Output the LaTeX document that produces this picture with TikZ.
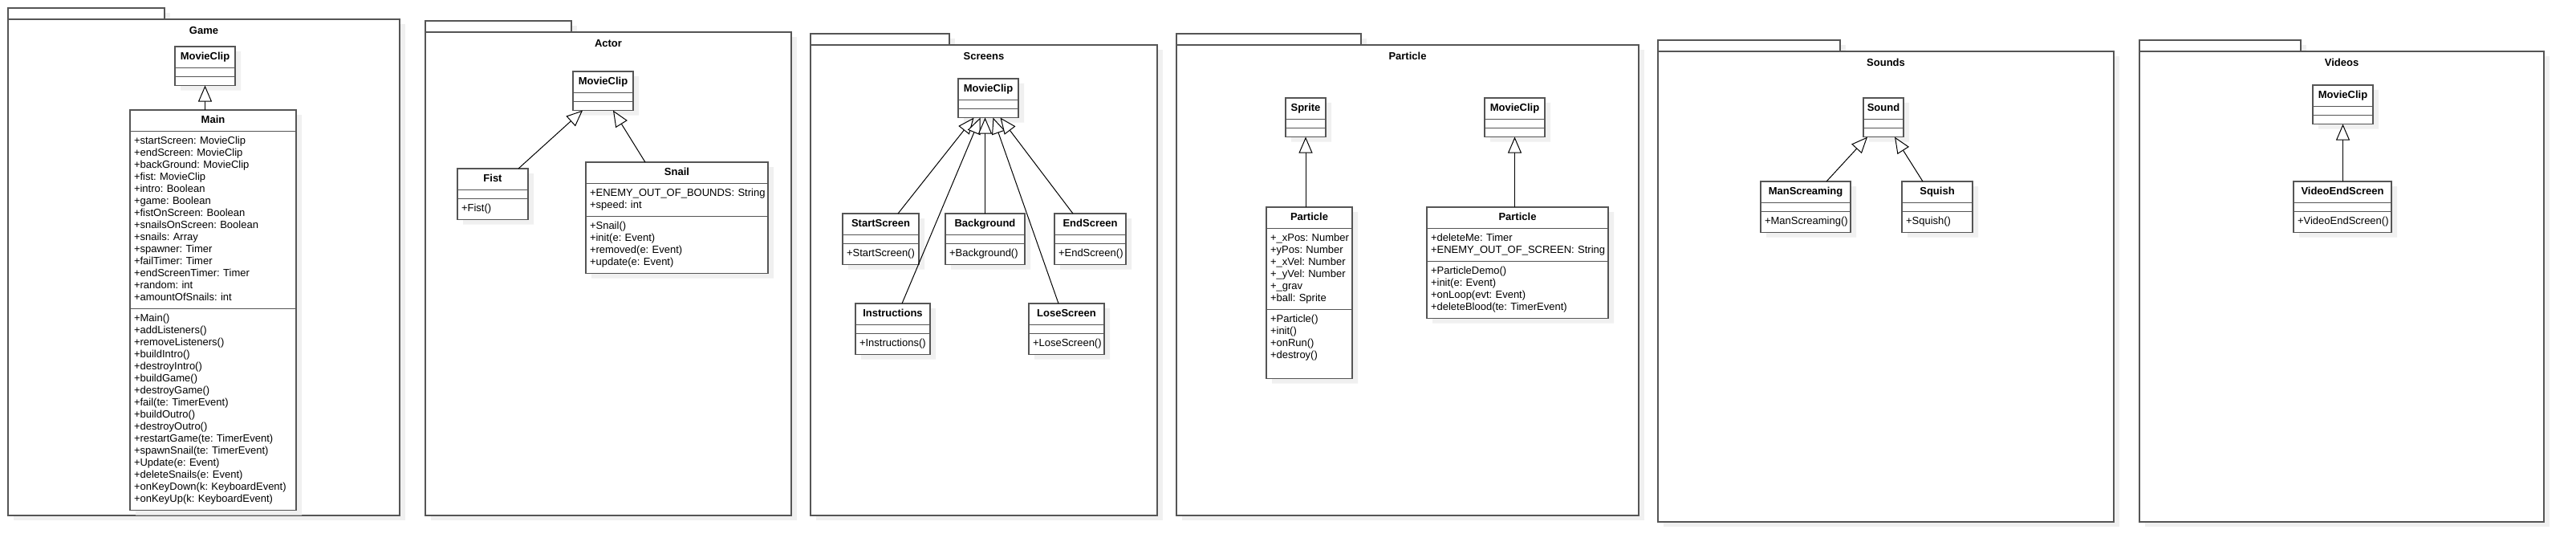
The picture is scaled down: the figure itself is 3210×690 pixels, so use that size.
\documentclass[tikz,border=0pt]{standalone}
\usepackage{fontspec}
\setmainfont{Liberation Sans}
\usepackage{xcolor}
\usepackage{tikz}
\usetikzlibrary{shapes.multipart,shadows,arrows.meta}
\definecolor{umlline}{RGB}{85,85,85}
\definecolor{umlshadow}{RGB}{240,240,240}
\newcommand{\umlfont}{\fontsize{6.5}{7.5}\selectfont\frenchspacing}
\newcommand{\umlhead}[1]{\noindent\hbox to\hsize{\hss\strut\textbf{#1}\hss}}
\newcommand{\umlmembers}[1]{\noindent\begin{tabular}[t]{@{}l@{}}#1\end{tabular}}
\tikzset{
    uml class/.style={
        rectangle split,
        rectangle split parts=3,
        rectangle split empty part height=0pt,
        rectangle split empty part depth=0pt,
        draw=umlline,
        line width=0.6pt,
        fill=white,
        text width=#1,
        align=left,
        inner xsep=2.5pt,
        inner ysep=2.5pt,
        outer sep=0pt,
        font=\umlfont,
        drop shadow={shadow xshift=3.5pt, shadow yshift=-3pt, fill=umlshadow, opacity=1},
    },
    uml extends/.style={
        -{Triangle[length=10pt,width=8.5pt,fill=white]},
        line width=0.5pt,
        draw=black,
    },
    uml package/.style={draw=umlline, line width=0.6pt, fill=white},
    uml package shadow/.style={fill=umlshadow, draw=none},
    uml package title/.style={font=\umlfont\bfseries, inner sep=0pt},
}

\begin{document}
\begin{tikzpicture}[x=0.5pt,y=-0.5pt]
    \useasboundingbox (0,0) rectangle (3210,690);

    %Packages: shadow, tab, body and title
    \fill[uml package shadow] (17,16) rectangle (212,30);
    \fill[uml package shadow] (17,30) rectangle (505,648);
    \draw[uml package] (10,10) rectangle (205,24);
    \draw[uml package] (10,24) rectangle (498,642);
    \node[uml package title] (gameTitle) at (254,38) {Game};

    \fill[uml package shadow] (537,32) rectangle (719,46);
    \fill[uml package shadow] (537,46) rectangle (993,648);
    \draw[uml package] (530,26) rectangle (712,40);
    \draw[uml package] (530,40) rectangle (986,642);
    \node[uml package title] (actorTitle) at (758,54) {Actor};

    \fill[uml package shadow] (1017,48) rectangle (1190,62);
    \fill[uml package shadow] (1017,62) rectangle (1449,648);
    \draw[uml package] (1010,42) rectangle (1183,56);
    \draw[uml package] (1010,56) rectangle (1442,642);
    \node[uml package title] (screensTitle) at (1226,70) {Screens};

    \fill[uml package shadow] (1473,48) rectangle (1703,62);
    \fill[uml package shadow] (1473,62) rectangle (2049,648);
    \draw[uml package] (1466,42) rectangle (1696,56);
    \draw[uml package] (1466,56) rectangle (2042,642);
    \node[uml package title] (particleTitle) at (1754,70) {Particle};

    \fill[uml package shadow] (2073,56) rectangle (2300,70);
    \fill[uml package shadow] (2073,70) rectangle (2641,656);
    \draw[uml package] (2066,50) rectangle (2293,64);
    \draw[uml package] (2066,64) rectangle (2634,650);
    \node[uml package title] (soundsTitle) at (2350,78) {Sounds};

    \fill[uml package shadow] (2673,56) rectangle (2874,70);
    \fill[uml package shadow] (2673,70) rectangle (3177,656);
    \draw[uml package] (2666,50) rectangle (2867,64);
    \draw[uml package] (2666,64) rectangle (3170,650);
    \node[uml package title] (videosTitle) at (2918,78) {Videos};

    %Game
    \node[uml class=32.5pt, anchor=north west] (mcGame) at (218,58)
        {\umlhead{MovieClip}\nodepart{two}\nodepart{three}};
    \node[uml class=98.5pt, anchor=north west] (mainGame) at (162,137)
        {\umlhead{Main}
        \nodepart{two}\umlmembers{+startScreen: MovieClip\\+endScreen: MovieClip\\+backGround: MovieClip\\+fist: MovieClip\\+intro: Boolean\\+game: Boolean\\+fistOnScreen: Boolean\\+snailsOnScreen: Boolean\\+snails: Array\\+spawner: Timer\\+failTimer: Timer\\+endScreenTimer: Timer\\+random: int\\+amountOfSnails: int}
        \nodepart{three}\umlmembers{+Main()\\+addListeners()\\+removeListeners()\\+buildIntro()\\+destroyIntro()\\+buildGame()\\+destroyGame()\\+fail(te: TimerEvent)\\+buildOutro()\\+destroyOutro()\\+restartGame(te: TimerEvent)\\+spawnSnail(te: TimerEvent)\\+Update(e: Event)\\+deleteSnails(e: Event)\\+onKeyDown(k: KeyboardEvent)\\+onKeyUp(k: KeyboardEvent)}};

    \draw[uml extends] (mcGame.south |- mainGame.north) -- (mcGame.south);

    %Actor
    \node[uml class=32.5pt, anchor=north west] (mcActor) at (714,89)
        {\umlhead{MovieClip}\nodepart{two}\nodepart{three}};
    \node[uml class=39pt, anchor=north west] (fist) at (570,210)
        {\umlhead{Fist}\nodepart{two}\nodepart{three}\umlmembers{+Fist()}};
    \node[uml class=108.5pt, anchor=north west] (snail) at (730,202)
        {\umlhead{Snail}
        \nodepart{two}\umlmembers{+ENEMY\_OUT\_OF\_BOUNDS: String\\+speed: int}
        \nodepart{three}\umlmembers{+Snail()\\+init(e: Event)\\+removed(e: Event)\\+update(e: Event)}};

    \draw[uml extends] ([xshift=16pt]fist.north) -- ([xshift=-12.75pt]mcActor.south);
    \draw[uml extends] ([xshift=-19.75pt]snail.north) -- ([xshift=6.25pt]mcActor.south);

    %Screens
    \node[uml class=32.5pt, anchor=north west] (mcScreens) at (1194,98)
        {\umlhead{MovieClip}\nodepart{two}\nodepart{three}};
    \node[uml class=42.5pt, anchor=north west] (startScreen) at (1050,266)
        {\umlhead{StartScreen}\nodepart{two}\nodepart{three}\umlmembers{+StartScreen()}};
    \node[uml class=44.5pt, anchor=north west] (background) at (1178,266)
        {\umlhead{Background}\nodepart{two}\nodepart{three}\umlmembers{+Background()}};
    \node[uml class=39.5pt, anchor=north west] (endScreen) at (1314,266)
        {\umlhead{EndScreen}\nodepart{two}\nodepart{three}\umlmembers{+EndScreen()}};
    \node[uml class=41.5pt, anchor=north west] (instructions) at (1066,378)
        {\umlhead{Instructions}\nodepart{two}\nodepart{three}\umlmembers{+Instructions()}};
    \node[uml class=42pt, anchor=north west] (loseScreen) at (1282,378)
        {\umlhead{LoseScreen}\nodepart{two}\nodepart{three}\umlmembers{+LoseScreen()}};

    \draw[uml extends] ([xshift=10.75pt]startScreen.north) -- ([xshift=-9pt]mcScreens.south);
    \draw[uml extends] ([xshift=5.75pt]instructions.north) -- ([xshift=-5pt]mcScreens.south);
    \draw[uml extends] (background.north) -- (background.north |- mcScreens.south);
    \draw[uml extends] ([xshift=-5pt]loseScreen.north) -- ([xshift=3pt]mcScreens.south);
    \draw[uml extends] ([xshift=-10.75pt]endScreen.north) -- ([xshift=7.5pt]mcScreens.south);

    %Particle
    \node[uml class=20pt, anchor=north west] (sprite) at (1602,122)
        {\umlhead{Sprite}\nodepart{two}\nodepart{three}};
    \node[uml class=32.5pt, anchor=north west] (mcParticle) at (1850,122)
        {\umlhead{MovieClip}\nodepart{two}\nodepart{three}};
    \node[uml class=48.5pt, anchor=north west] (particleA) at (1578,258)
        {\umlhead{Particle}
        \nodepart{two}\umlmembers{+\_xPos: Number\\+yPos: Number\\+\_xVel: Number\\+\_yVel: Number\\+\_grav\\+ball: Sprite}
        \nodepart{three}\umlmembers{+Particle()\\+init()\\+onRun()\\+destroy()\\~}};
    \node[uml class=108pt, anchor=north west] (particleB) at (1778,258)
        {\umlhead{Particle}
        \nodepart{two}\umlmembers{+deleteMe: Timer\\+ENEMY\_OUT\_OF\_SCREEN: String}
        \nodepart{three}\umlmembers{+ParticleDemo()\\+init(e: Event)\\+onLoop(evt: Event)\\+deleteBlood(te: TimerEvent)}};

    \draw[uml extends] (sprite.south |- particleA.north) -- (sprite.south);
    \draw[uml extends] (mcParticle.south |- particleB.north) -- (mcParticle.south);

    %Sounds
    \node[uml class=20pt, anchor=north west] (sound) at (2322,122)
        {\umlhead{Sound}\nodepart{two}\nodepart{three}};
    \node[uml class=51pt, anchor=north west] (manScreaming) at (2194,226)
        {\umlhead{ManScreaming}\nodepart{two}\nodepart{three}\umlmembers{+ManScreaming()}};
    \node[uml class=39pt, anchor=north west] (squish) at (2370,226)
        {\umlhead{Squish}\nodepart{two}\nodepart{three}\umlmembers{+Squish()}};

    \draw[uml extends] ([xshift=13pt]manScreaming.north) -- ([xshift=-10pt]sound.south);
    \draw[uml extends] ([xshift=-9pt]squish.north) -- ([xshift=7pt]sound.south);

    %Videos
    \node[uml class=32.5pt, anchor=north west] (mcVideos) at (2882,106)
        {\umlhead{MovieClip}\nodepart{two}\nodepart{three}};
    \node[uml class=56pt, anchor=north west] (videoEnd) at (2858,226)
        {\umlhead{VideoEndScreen}\nodepart{two}\nodepart{three}\umlmembers{+VideoEndScreen()}};

    \draw[uml extends] (mcVideos.south |- videoEnd.north) -- (mcVideos.south);
\end{tikzpicture}
\end{document}
